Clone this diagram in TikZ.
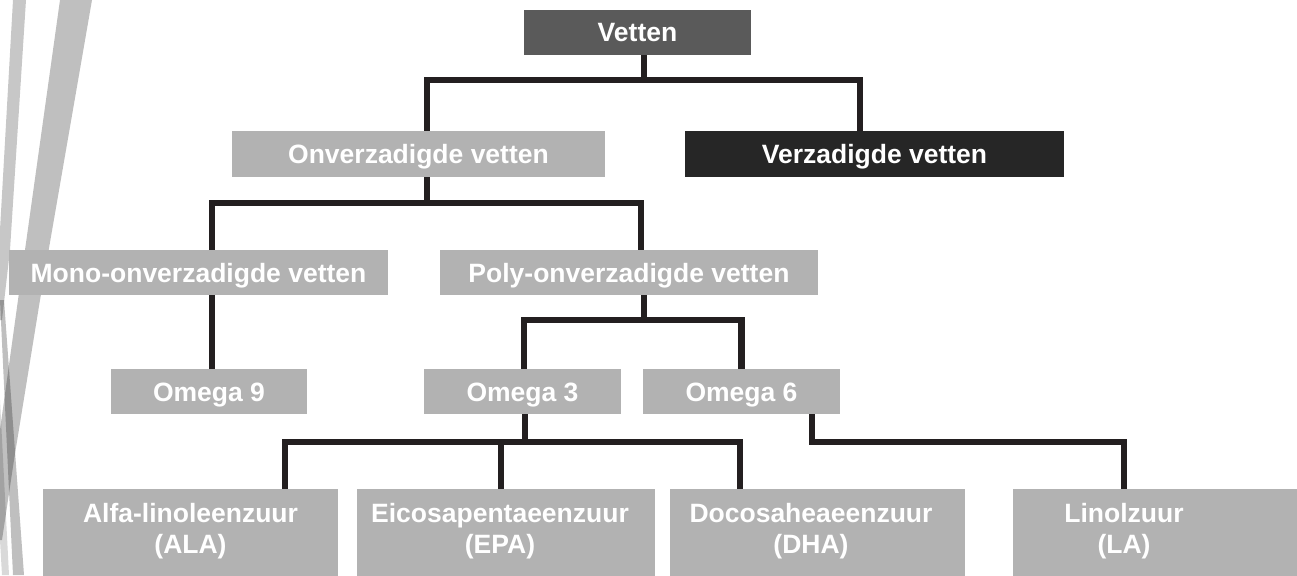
\documentclass[tikz,border=0pt]{standalone}
\usepackage{fontspec}
\setmainfont{Liberation Sans}
\definecolor{boxgray}{HTML}{B2B2B2}
\definecolor{darkbox}{HTML}{5A5A5A}
\definecolor{blackbox}{HTML}{262626}
\definecolor{linecol}{HTML}{231F20}
\begin{document}
\begin{tikzpicture}[x=1pt,y=-1pt,
  box/.style={rectangle, fill=boxgray, inner sep=0pt, text=white,
    font=\fontsize{26.5}{31}\selectfont\bfseries, text height=19pt, text depth=0pt},
  lbl/.style={inner sep=0pt, text=white, font=\fontsize{26.5}{31}\selectfont\bfseries, anchor=base},
  conn/.style={draw=linecol, line width=6.5pt},
  stripe/.style={fill=black, opacity=0.25}]
\useasboundingbox (0,0) rectangle (1297,575);
\fill[white] (0,0) rectangle (1297,575);
\begin{scope}
\clip (0,0) rectangle (1297,575);
% decorative stripes
\fill[stripe] (60,0) -- (92,0) -- (40,300) -- (14,460) -- (2,540) -- (0,540) -- (0,430) -- (18,300) -- cycle;
\fill[stripe, opacity=0.22] (13,0) -- (26,0) -- (10,250) -- (2,320) -- (0,320) -- (0,230) -- cycle;
\fill[stripe] (0,300) -- (4,300) -- (24,575) -- (13,575) -- cycle;
\fill[stripe, opacity=0.15] (0,400) -- (9,575) -- (2,575) -- (0,540) -- cycle;
% boxes
\node[box, minimum width=227pt, minimum height=45pt, fill=darkbox] (vetten) at (637.5,32.5) {Vetten};
\node[box, minimum width=373pt, minimum height=46pt] (onv) at (418.5,154) {Onverzadigde vetten};
\node[box, minimum width=379pt, minimum height=46pt, fill=blackbox] (verz) at (874.5,154) {Verzadigde vetten};
\node[box, minimum width=379pt, minimum height=45pt] (mono) at (198.5,272.5) {Mono-onverzadigde vetten};
\node[box, minimum width=378pt, minimum height=45pt] (poly) at (629,272.5) {Poly-onverzadigde vetten};
\node[box, minimum width=196pt, minimum height=45pt] (om9) at (209,391.5) {Omega 9};
\node[box, minimum width=197pt, minimum height=45pt] (om3) at (522.5,391.5) {Omega 3};
\node[box, minimum width=197pt, minimum height=45pt] (om6) at (741.5,391.5) {Omega 6};
\node[box, minimum width=295pt, minimum height=87pt] (ala) at (190.5,532.5) {};
\node[box, minimum width=298pt, minimum height=87pt] (epa) at (506,532.5) {};
\node[box, minimum width=295pt, minimum height=87pt] (dha) at (817.5,532.5) {};
\node[box, minimum width=297pt, minimum height=87pt] (la) at (1161.5,532.5) {};
\node[lbl] (ala1) at (190.5,522) {Alfa-linoleenzuur};
\node[lbl] (ala2) at (190.5,553) {(ALA)};
\node[lbl] (epa1) at (500,522) {Eicosapentaeenzuur};
\node[lbl] (epa2) at (500,553) {(EPA)};
\node[lbl] (dha1) at (811,522) {Docosaheaeenzuur};
\node[lbl] (dha2) at (811,553) {(DHA)};
\node[lbl] (la1) at (1124,522) {Linolzuur};
\node[lbl] (la2) at (1124,553) {(LA)};
% bus coordinates
\coordinate (bus1) at (0,80);
\coordinate (bus2) at (0,203);
\coordinate (bus3) at (0,320);
\coordinate (bus4) at (0,442);
% connectors
\coordinate (v1) at ([xshift=6.5pt]vetten.south);
\draw[conn] (v1) -- (v1 |- bus1);
\draw[conn] ([xshift=8.5pt]onv.north) |- (v1 |- bus1) -| ([xshift=-14.5pt]verz.north);
\coordinate (v2) at ([xshift=8.5pt]onv.south);
\draw[conn] (v2) -- (v2 |- bus2);
\draw[conn] ([xshift=13.5pt]mono.north) |- (v2 |- bus2) -| ([xshift=12pt]poly.north);
\draw[conn] ([xshift=13.5pt]mono.south) -- ([xshift=13.5pt]mono.south |- om9.north);
\coordinate (v3) at ([xshift=15pt]poly.south);
\draw[conn] (v3) -- (v3 |- bus3);
\draw[conn] ([xshift=1.5pt]om3.north) |- (v3 |- bus3) -| (om6.north);
\coordinate (v4) at ([xshift=2.5pt]om3.south);
\draw[conn] (v4) -- (v4 |- bus4);
\draw[conn] ([xshift=94.5pt]ala.north) |- (v4 |- bus4) -| ([xshift=-77.5pt]dha.north);
\draw[conn] ([xshift=-5pt]epa.north) -- ([xshift=-5pt]epa.north |- bus4);
\coordinate (v5) at ([xshift=70.5pt]om6.south);
\draw[conn] (v5) |- (la1 |- bus4) -- (la1 |- la.north);
\end{scope}
\end{tikzpicture}
\end{document}
